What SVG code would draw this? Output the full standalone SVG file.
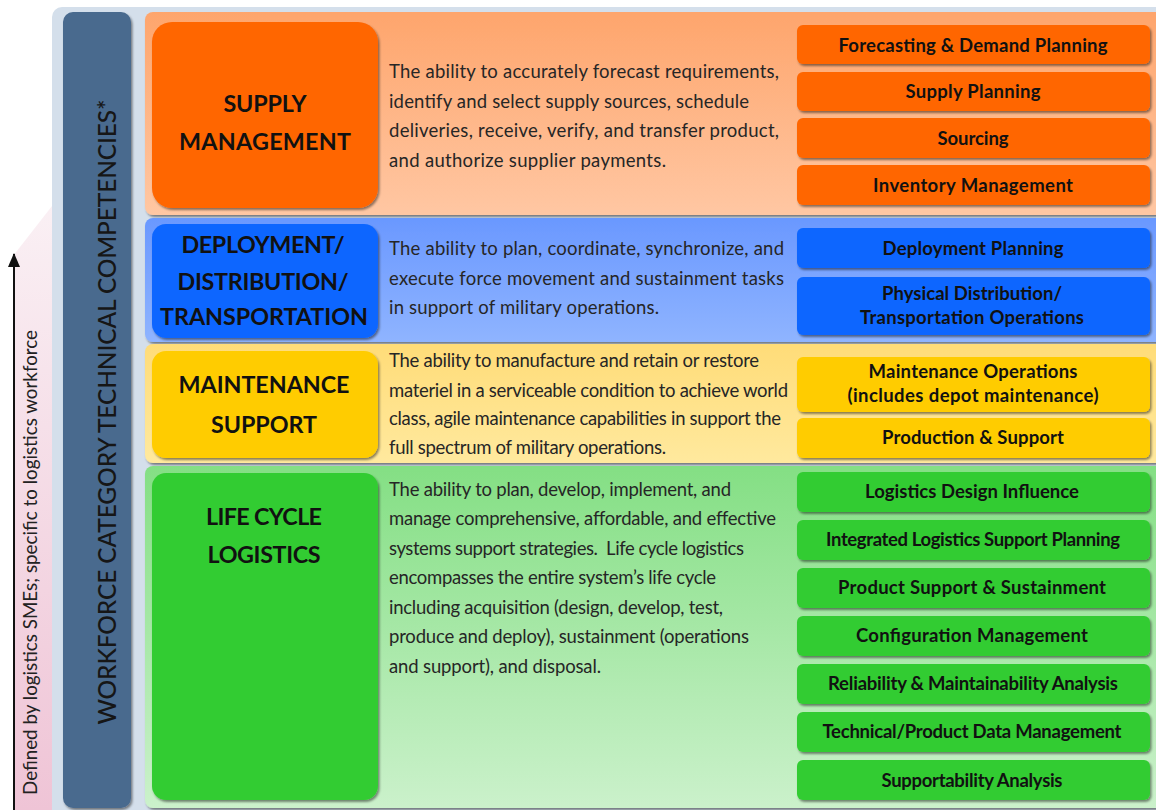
<svg xmlns="http://www.w3.org/2000/svg" width="1156" height="810" viewBox="0 0 1156 810">
<defs>
<linearGradient id="gPink" x1="0" y1="0" x2="0" y2="1"><stop offset="0" stop-color="#faf0f4"/><stop offset="1" stop-color="#efc4d6"/></linearGradient>
<linearGradient id="gSupply" x1="0" y1="0" x2="0" y2="1"><stop offset="0" stop-color="#fea56c"/><stop offset="1" stop-color="#ffc7a3"/></linearGradient>
<linearGradient id="gDeploy" x1="0" y1="0" x2="0" y2="1"><stop offset="0" stop-color="#6a98ff"/><stop offset="1" stop-color="#8fb4ff"/></linearGradient>
<linearGradient id="gMaint" x1="0" y1="0" x2="0" y2="1"><stop offset="0" stop-color="#ffdc78"/><stop offset="1" stop-color="#ffe99e"/></linearGradient>
<linearGradient id="gLife" x1="0" y1="0" x2="0" y2="1"><stop offset="0" stop-color="#84df84"/><stop offset="1" stop-color="#cbf1cb"/></linearGradient>
<filter id="sh" x="-5%" y="-5%" width="110%" height="120%"><feDropShadow dx="1.5" dy="2" stdDeviation="1" flood-color="#000" flood-opacity="0.45"/></filter>
<marker id="ah" viewBox="0 0 14 12" refX="13" refY="6" markerWidth="14" markerHeight="12" markerUnits="userSpaceOnUse" orient="auto"><path d="M0,0 L14,6 L0,12 Z" fill="#111"/></marker>
</defs>
<style>
.hdr{font-family:Lato,"Liberation Sans",sans-serif;font-weight:bold;font-size:23.3px;fill:#111;text-anchor:middle}
.desc{font-family:Lato,"Liberation Sans",sans-serif;font-size:18.5px;fill:#262626}
.item{font-family:Lato,"Liberation Sans",sans-serif;font-weight:bold;font-size:18.5px;fill:#111;text-anchor:middle}
.box{filter:url(#sh)}
.orange{fill:#ff6600}
.blue{fill:#0a66ff}
.yellow{fill:#ffcc00}
.green{fill:#33cc33}
</style>
<rect x="0" y="0" width="1156" height="810" fill="#ffffff"/>
<g id="background">
<rect x="52" y="7" width="1116" height="815" rx="10" fill="#d4dfeb"/>
<path d="M13,256 L52,206 L52,810 L13,810 Z" fill="url(#gPink)"/>
</g>
<g id="connectors">
<line x1="14" y1="810" x2="14" y2="254" stroke="#111" stroke-width="2" marker-end="url(#ah)"/>
</g>
<g id="side-label">
<text x="37" y="795" transform="rotate(-90 37 795)" font-family="Lato,'Liberation Sans',sans-serif" font-size="18.8px" textLength="465" fill="#222">Defined by logistics SMEs; specific to logistics workforce</text>
</g>
<g id="category-bar">
<rect x="63" y="12" width="68" height="796" rx="10" fill="#496a8e" filter="url(#sh)"/>
<text x="116" y="412" transform="rotate(-90 116 412)" text-anchor="middle" font-family="Lato,'Liberation Sans',sans-serif" font-size="24.5px" font-weight="500" textLength="625" fill="#161616">WORKFORCE CATEGORY TECHNICAL COMPETENCIES*</text>
</g>
<g id="supply-management">
<rect x="145" y="12" width="1020" height="203" rx="8" fill="url(#gSupply)" filter="url(#sh)"/>
<rect class="box orange" x="152" y="22" width="226" height="186" rx="20"/>
<text class="hdr" x="265" y="112" textLength="83">SUPPLY</text>
<text class="hdr" x="265" y="150" textLength="172">MANAGEMENT</text>
<text class="desc" x="389" y="78" textLength="390">The ability to accurately forecast requirements,</text>
<text class="desc" x="389" y="107.5" textLength="360">identify and select supply sources, schedule</text>
<text class="desc" x="389" y="137" textLength="390">deliveries, receive, verify, and transfer product,</text>
<text class="desc" x="389" y="166.5" textLength="277">and authorize supplier payments.</text>
</g>
<g id="item-forecasting"><rect class="box orange" x="797" y="25" width="353" height="39" rx="6"/><text class="item" x="973" y="52" textLength="269">Forecasting &amp; Demand Planning</text></g>
<g id="item-supply-planning"><rect class="box orange" x="797" y="72" width="353" height="39" rx="6"/><text class="item" x="973" y="98" textLength="135">Supply Planning</text></g>
<g id="item-sourcing"><rect class="box orange" x="797" y="118" width="353" height="40" rx="6"/><text class="item" x="973" y="145" textLength="71">Sourcing</text></g>
<g id="item-inventory"><rect class="box orange" x="797" y="165" width="353" height="40" rx="6"/><text class="item" x="973" y="192" textLength="200">Inventory Management</text></g>
<g id="deployment">
<rect x="145" y="218" width="1020" height="124" rx="8" fill="url(#gDeploy)" filter="url(#sh)"/>
<rect class="box blue" x="152" y="224" width="226" height="114" rx="14"/>
<text class="hdr" x="263" y="253" textLength="163">DEPLOYMENT/</text>
<text class="hdr" x="263" y="290" textLength="171">DISTRIBUTION/</text>
<text class="hdr" x="264" y="325" textLength="208">TRANSPORTATION</text>
<text class="desc" x="389" y="255" textLength="395">The ability to plan, coordinate, synchronize, and</text>
<text class="desc" x="389" y="285" textLength="395">execute force movement and sustainment tasks</text>
<text class="desc" x="389" y="314" textLength="270">in support of military operations.</text>
</g>
<g id="item-deployment-planning"><rect class="box blue" x="797" y="228" width="353" height="40" rx="6"/><text class="item" x="973" y="255" textLength="181">Deployment Planning</text></g>
<g id="item-physical-distribution"><rect class="box blue" x="797" y="277" width="353" height="58" rx="6"/><text class="item" x="972" y="300" textLength="180">Physical Distribution/</text><text class="item" x="972" y="324" textLength="224">Transportation Operations</text></g>
<g id="maintenance">
<rect x="145" y="344" width="1020" height="119" rx="8" fill="url(#gMaint)" filter="url(#sh)"/>
<rect class="box yellow" x="152" y="351" width="226" height="107" rx="14"/>
<text class="hdr" x="264" y="393" textLength="171">MAINTENANCE</text>
<text class="hdr" x="264" y="433" textLength="106">SUPPORT</text>
<text class="desc" x="389" y="367" textLength="370">The ability to manufacture and retain or restore</text>
<text class="desc" x="389" y="397" textLength="399">materiel in a serviceable condition to achieve world</text>
<text class="desc" x="389" y="425" textLength="392">class, agile maintenance capabilities in support the</text>
<text class="desc" x="389" y="454" textLength="277">full spectrum of military operations.</text>
</g>
<g id="item-maintenance-operations"><rect class="box yellow" x="797" y="357" width="353" height="55" rx="6"/><text class="item" x="973" y="378" textLength="209">Maintenance Operations</text><text class="item" x="973" y="402" textLength="251">(includes depot maintenance)</text></g>
<g id="item-production-support"><rect class="box yellow" x="797" y="418" width="353" height="40" rx="6"/><text class="item" x="973" y="444" textLength="182">Production &amp; Support</text></g>
<g id="life-cycle">
<rect x="145" y="466" width="1020" height="342" rx="8" fill="url(#gLife)" filter="url(#sh)"/>
<rect class="box green" x="152" y="473" width="226" height="327" rx="14"/>
<text class="hdr" x="264" y="525" textLength="116">LIFE CYCLE</text>
<text class="hdr" x="264" y="563" textLength="113">LOGISTICS</text>
<text class="desc" x="389" y="496" textLength="342">The ability to plan, develop, implement, and</text>
<text class="desc" x="389" y="525" textLength="387">manage comprehensive, affordable, and effective</text>
<text class="desc" x="389" y="555" textLength="355" xml:space="preserve">systems support strategies.  Life cycle logistics</text>
<text class="desc" x="389" y="584" textLength="327">encompasses the entire system’s life cycle</text>
<text class="desc" x="389" y="614" textLength="334">including acquisition (design, develop, test,</text>
<text class="desc" x="389" y="643" textLength="360">produce and deploy), sustainment (operations</text>
<text class="desc" x="389" y="673" textLength="212">and support), and disposal.</text>
</g>
<g id="item-logistics-design"><rect class="box green" x="797" y="472" width="353" height="40" rx="6"/><text class="item" x="972" y="498" textLength="214">Logistics Design Influence</text></g>
<g id="item-ils-planning"><rect class="box green" x="797" y="520" width="353" height="40" rx="6"/><text class="item" x="973" y="546" textLength="294">Integrated Logistics Support Planning</text></g>
<g id="item-product-support"><rect class="box green" x="797" y="568" width="353" height="40" rx="6"/><text class="item" x="972" y="594" textLength="268">Product Support &amp; Sustainment</text></g>
<g id="item-configuration"><rect class="box green" x="797" y="616" width="353" height="40" rx="6"/><text class="item" x="972" y="642" textLength="232">Configuration Management</text></g>
<g id="item-reliability"><rect class="box green" x="797" y="664" width="353" height="40" rx="6"/><text class="item" x="973" y="690" textLength="290">Reliability &amp; Maintainability Analysis</text></g>
<g id="item-technical-data"><rect class="box green" x="797" y="712" width="353" height="40" rx="6"/><text class="item" x="972" y="738" textLength="299">Technical/Product Data Management</text></g>
<g id="item-supportability"><rect class="box green" x="797" y="760" width="353" height="40" rx="6"/><text class="item" x="972" y="787" textLength="181">Supportability Analysis</text></g>
</svg>
